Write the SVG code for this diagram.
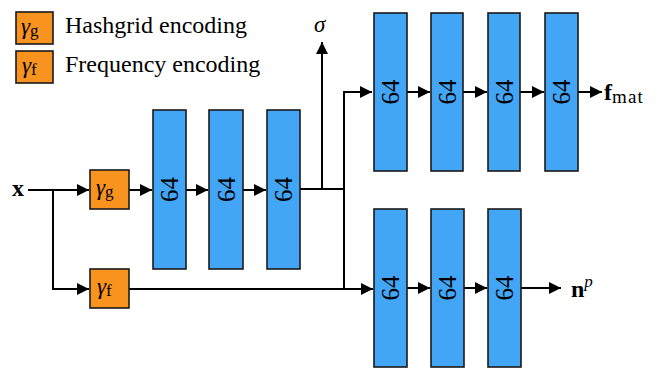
<svg xmlns="http://www.w3.org/2000/svg" width="665" height="371" viewBox="0 0 665 371" font-family="Liberation Serif, serif">
<style>
.blk{fill:#42a5f5;stroke:#1a1a1a;stroke-width:1.6}
.enc{fill:#f7931e;stroke:#1a1a1a;stroke-width:1.6}
.ln{fill:none;stroke:#000;stroke-width:2}
text{font-family:'Liberation Serif',serif;fill:#000}
.num{font-size:25px}
.lab{font-size:24px}
.gam{font-size:23px;font-style:italic}
.sub{font-style:normal;font-size:17px}
</style>
<defs>
<marker id="ah" viewBox="0 0 10 10" refX="10" refY="5" markerWidth="6" markerHeight="6" markerUnits="strokeWidth" orient="auto">
<path d="M0,0 L10,5 L0,10 Z" fill="#000"/>
</marker>
</defs>
<g id="legend-g">
<rect class="enc" x="16" y="12" width="37" height="32"/>
<text class="gam" x="21" y="34">γ<tspan class="sub" dy="2">g</tspan></text>
<text class="lab" x="65" y="33">Hashgrid encoding</text>
</g>
<g id="legend-f">
<rect class="enc" x="16" y="51" width="37" height="32"/>
<text class="gam" x="22" y="73">γ<tspan class="sub" dy="2">f</tspan></text>
<text class="lab" x="65" y="72">Frequency encoding</text>
</g>
<g id="connectors">
<path class="ln" d="M28,190 H89" marker-end="url(#ah)"/>
<path class="ln" d="M53,190 V289 H89" marker-end="url(#ah)"/>
<path class="ln" d="M129,190 H152" marker-end="url(#ah)"/>
<path class="ln" d="M186,190 H208" marker-end="url(#ah)"/>
<path class="ln" d="M243,190 H266" marker-end="url(#ah)"/>
<path class="ln" d="M300,189 H344"/>
<path class="ln" d="M322,189 V42" marker-end="url(#ah)"/>
<path class="ln" d="M344,289 V92 H372" marker-end="url(#ah)"/>
<path class="ln" d="M129,289 H373" marker-end="url(#ah)"/>
<path class="ln" d="M407,92 H430" marker-end="url(#ah)"/>
<path class="ln" d="M463,92 H487" marker-end="url(#ah)"/>
<path class="ln" d="M520,92 H544" marker-end="url(#ah)"/>
<path class="ln" d="M578,92 H602" marker-end="url(#ah)"/>
<path class="ln" d="M407,288 H430" marker-end="url(#ah)"/>
<path class="ln" d="M464,288 H487" marker-end="url(#ah)"/>
<path class="ln" d="M521,288 H561" marker-end="url(#ah)"/>
</g>
<g id="x-label"><text class="lab" x="12" y="196" font-weight="bold">x</text></g>
<g id="sigma-label"><text class="gam" x="314" y="32">σ</text></g>
<g id="gamma-g">
<rect class="enc" x="90" y="170" width="39" height="39"/>
<text class="gam" x="96" y="195">γ<tspan class="sub" dy="2">g</tspan></text>
</g>
<g id="gamma-f">
<rect class="enc" x="90" y="269" width="39" height="39"/>
<text class="gam" x="97" y="294">γ<tspan class="sub" dy="2">f</tspan></text>
</g>
<g id="b1"><rect class="blk" x="153" y="110" width="33" height="159"/><text class="num" transform="translate(178,189.5) rotate(-90)" text-anchor="middle">64</text></g>
<g id="b2"><rect class="blk" x="209" y="110" width="34" height="159"/><text class="num" transform="translate(234.5,189.5) rotate(-90)" text-anchor="middle">64</text></g>
<g id="b3"><rect class="blk" x="267" y="110" width="33" height="159"/><text class="num" transform="translate(292,189.5) rotate(-90)" text-anchor="middle">64</text></g>
<g id="t1"><rect class="blk" x="374" y="13" width="33" height="158"/><text class="num" transform="translate(399,92) rotate(-90)" text-anchor="middle">64</text></g>
<g id="t2"><rect class="blk" x="431" y="13" width="32" height="158"/><text class="num" transform="translate(455.5,92) rotate(-90)" text-anchor="middle">64</text></g>
<g id="t3"><rect class="blk" x="488" y="13" width="32" height="158"/><text class="num" transform="translate(512.5,92) rotate(-90)" text-anchor="middle">64</text></g>
<g id="t4"><rect class="blk" x="545" y="13" width="33" height="158"/><text class="num" transform="translate(570,92) rotate(-90)" text-anchor="middle">64</text></g>
<g id="m1"><rect class="blk" x="374" y="209" width="33" height="158"/><text class="num" transform="translate(399,288) rotate(-90)" text-anchor="middle">64</text></g>
<g id="m2"><rect class="blk" x="431" y="209" width="33" height="158"/><text class="num" transform="translate(456,288) rotate(-90)" text-anchor="middle">64</text></g>
<g id="m3"><rect class="blk" x="488" y="209" width="33" height="158"/><text class="num" transform="translate(513,288) rotate(-90)" text-anchor="middle">64</text></g>
<g id="fmat-label"><text class="lab" x="604" y="100"><tspan font-weight="bold">f</tspan><tspan font-size="19" letter-spacing="1.2" dy="3">mat</tspan></text></g>
<g id="np-label"><text class="lab" x="571" y="297"><tspan font-weight="bold">n</tspan><tspan font-size="17" font-style="italic" dy="-10">p</tspan></text></g>
</svg>
